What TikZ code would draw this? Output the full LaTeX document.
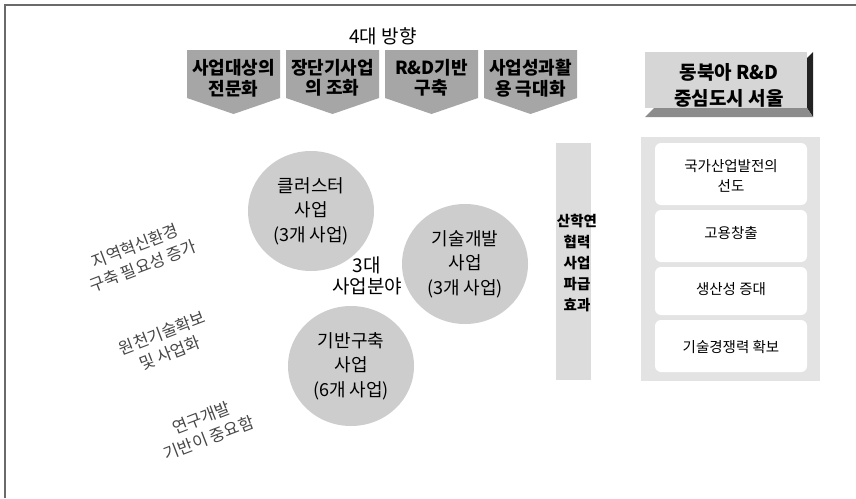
\documentclass[tikz,border=0pt]{standalone}
\usepackage{fontspec}
\setmainfont{Noto Sans CJK KR}
\usetikzlibrary{shapes.geometric}
\definecolor{pentgray}{HTML}{A6A6A6}
\definecolor{circgray}{HTML}{CDCDCD}
\definecolor{stripgray}{HTML}{DCDCDC}
\definecolor{panelgray}{HTML}{E3E3E3}
\definecolor{facegray}{HTML}{D6D6D6}
\definecolor{bevelgray}{HTML}{8C8C8C}
\definecolor{beveldark}{HTML}{222222}
\definecolor{frame}{HTML}{6A6A6A}
\begin{document}
\begin{tikzpicture}[x=1pt,y=-1pt,
  pentfill/.style={fill=pentgray},
  penttext/.style={font=\fontsize{18}{20.5}\selectfont\bfseries, align=center, inner sep=0pt},
  circnode/.style={ellipse, fill=circgray, minimum width=126pt, minimum height=120pt, inner sep=0pt, font=\fontsize{18}{24.5}\selectfont, align=center},
  paneltext/.style={font=\fontsize{14.5}{20}\selectfont, align=center, inner sep=0pt},
  whitebox/.style={fill=white, rounded corners=6pt},
  slanted/.style={rotate=21, font=\fontsize{16.5}{21.5}\selectfont, text=black!72, align=center, inner sep=0pt}
]
\useasboundingbox (0,0) rectangle (856,498);
\fill[white] (0,0) rectangle (856,498);
% frame
\draw[frame, line width=1.3pt] (5,498) -- (5,5) -- (856,5);

% title
\node[font=\fontsize{19}{21}\selectfont, inner sep=0pt] (title) at (383,36) {4대 방향};

% four direction pentagons
\fill[pentfill] (187,50) -- (280,50) -- (280,98) -- (233.5,114) -- (187,98) -- cycle;
\fill[pentfill] (286,50) -- (379,50) -- (379,98) -- (332.5,114) -- (286,98) -- cycle;
\fill[pentfill] (385,50) -- (478,50) -- (478,98) -- (431.5,114) -- (385,98) -- cycle;
\fill[pentfill] (484,50) -- (577,50) -- (577,98) -- (530.5,114) -- (484,98) -- cycle;
\node[penttext] (d1) at (233.5,78) {사업대상의\\전문화};
\node[penttext] (d2) at (332.5,78) {장단기사업\\의 조화};
\node[penttext] (d3) at (431.5,78) {R\&D기반\\구축};
\node[penttext] (d4) at (530.5,78) {사업성과활\\용 극대화};

% beveled goal box
\fill[facegray] (645,52) rectangle (807,108);
\fill[beveldark] (807,58) -- (813,52) -- (813,117) -- (807,108) -- cycle;
\fill[bevelgray] (645,117) -- (654,108) -- (807,108) -- (813,117) -- cycle;
\node[font=\fontsize{19}{26}\selectfont\bfseries, align=center, inner sep=0pt] (goal) at (729,85) {동북아 R\&D\\중심도시 서울};

% right effects panel
\fill[panelgray] (641,137) rectangle (820,381);
\fill[whitebox] (655,143) rectangle (807,205);
\fill[whitebox] (655,210) rectangle (807,262);
\fill[whitebox] (655,267) rectangle (807,315);
\fill[whitebox] (655,320) rectangle (807,372);
\node[paneltext] (e1) at (731,176) {국가산업발전의\\선도};
\node[paneltext] (e2) at (731,233) {고용창출};
\node[paneltext] (e3) at (731,289) {생산성 증대};
\node[paneltext] (e4) at (731,347) {기술경쟁력 확보};

% vertical strip
\fill[stripgray] (556,143) rectangle (591,380);
\node[font=\fontsize{14.5}{21}\selectfont\bfseries, align=center, inner sep=0pt] (strip) at (577,263) {산학연\\협력\\사업\\파급\\효과};

% three business circles
\node[circnode] (c1) at (311,211) {클러스터\\사업\\(3개 사업)};
\node[circnode] (c2) at (465,264) {기술개발\\사업\\(3개 사업)};
\node[circnode] (c3) at (351,366) {기반구축\\사업\\(6개 사업)};
\node[font=\fontsize{19}{21}\selectfont, align=center, inner sep=0pt] (center) at (367,276) {3대\\사업분야};

% slanted statements
\node[slanted] (s1) at (139,256) {지역혁신환경\\구축 필요성 증가};
\node[slanted] (s2) at (166,343) {원천기술확보\\및 사업화};
\node[slanted] (s3) at (205,428) {연구개발\\기반이 중요함};
\end{tikzpicture}
\end{document}
